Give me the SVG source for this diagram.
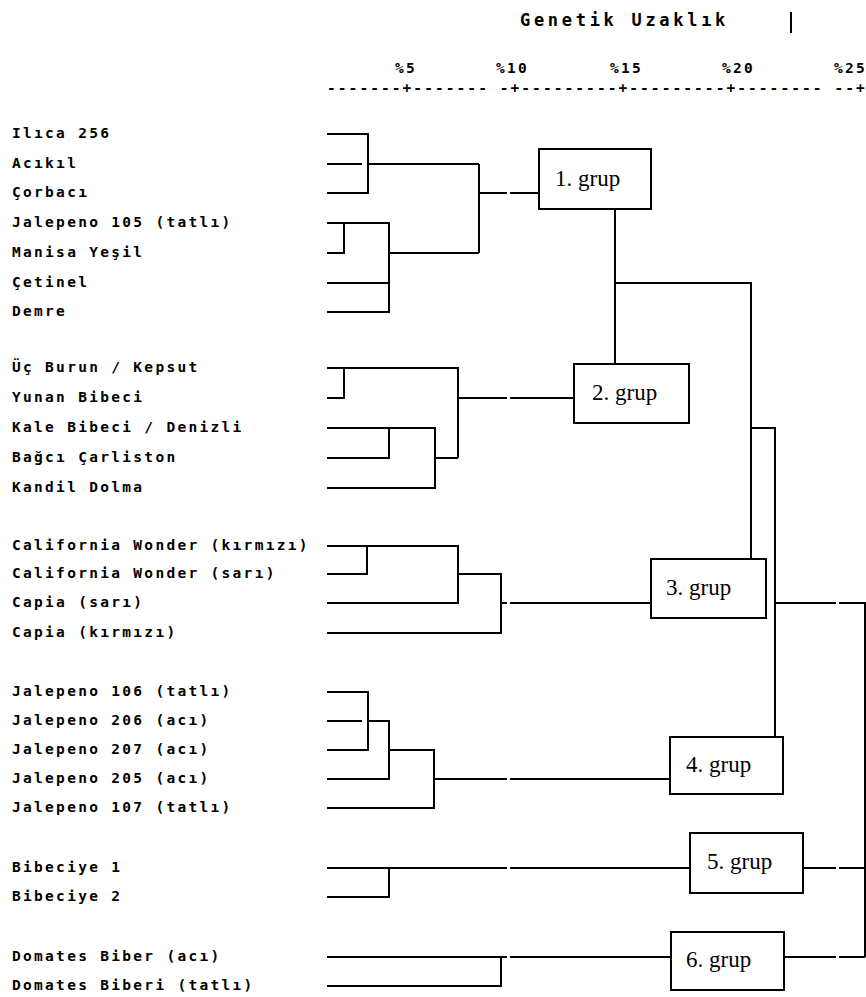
<svg xmlns="http://www.w3.org/2000/svg" width="866" height="997" viewBox="0 0 866 997">
<style>
.lbl{font-family:"DejaVu Sans Mono","Liberation Mono",monospace;font-weight:bold;font-size:14.5px;letter-spacing:2.3px;fill:#000}
.hdr{font-family:"DejaVu Sans Mono","Liberation Mono",monospace;font-weight:bold;font-size:17px;letter-spacing:3.7px;fill:#000}
.ax{font-family:"DejaVu Sans Mono","Liberation Mono",monospace;font-weight:bold;font-size:14.5px;letter-spacing:2.3px;fill:#000}
.grp{font-family:"Liberation Serif","Times New Roman",serif;font-size:23px;fill:#000}
.box{fill:#fff;stroke:#000;stroke-width:2}
.ln{fill:none;stroke:#000;stroke-width:2;stroke-linejoin:miter}
</style>
<rect width="866" height="997" fill="#fff"/>
<g id="header">
<text class="hdr" x="520" y="26">Genetik Uzaklık</text>
<line x1="791" y1="12" x2="791" y2="33" stroke="#000" stroke-width="2"/>
<text class="ax" x="395" y="73">%5</text>
<text class="ax" x="496" y="73">%10</text>
<text class="ax" x="610" y="73">%15</text>
<text class="ax" x="722" y="73">%20</text>
<text class="ax" x="834" y="73">%25</text>
<text class="ax" x="327" y="93" textLength="540" lengthAdjust="spacing">-------+------- -+---------+---------+-------- --+</text>
</g>
<g id="labels">
<text class="lbl" x="12" y="138">Ilıca 256</text>
<text class="lbl" x="12" y="168">Acıkıl</text>
<text class="lbl" x="12" y="197">Çorbacı</text>
<text class="lbl" x="12" y="227">Jalepeno 105 (tatlı)</text>
<text class="lbl" x="12" y="257">Manisa Yeşil</text>
<text class="lbl" x="12" y="287">Çetinel</text>
<text class="lbl" x="12" y="316">Demre</text>
<text class="lbl" x="12" y="372">Üç Burun / Kepsut</text>
<text class="lbl" x="12" y="402">Yunan Bibeci</text>
<text class="lbl" x="12" y="432">Kale Bibeci / Denizli</text>
<text class="lbl" x="12" y="462">Bağcı Çarliston</text>
<text class="lbl" x="12" y="492">Kandil Dolma</text>
<text class="lbl" x="12" y="550">California Wonder (kırmızı)</text>
<text class="lbl" x="12" y="578">California Wonder (sarı)</text>
<text class="lbl" x="12" y="607">Capia (sarı)</text>
<text class="lbl" x="12" y="637">Capia (kırmızı)</text>
<text class="lbl" x="12" y="696">Jalepeno 106 (tatlı)</text>
<text class="lbl" x="12" y="725">Jalepeno 206 (acı)</text>
<text class="lbl" x="12" y="754">Jalepeno 207 (acı)</text>
<text class="lbl" x="12" y="783">Jalepeno 205 (acı)</text>
<text class="lbl" x="12" y="812">Jalepeno 107 (tatlı)</text>
<text class="lbl" x="12" y="872">Bibeciye 1</text>
<text class="lbl" x="12" y="901">Bibeciye 2</text>
<text class="lbl" x="12" y="961">Domates Biber (acı)</text>
<text class="lbl" x="12" y="990">Domates Biberi (tatlı)</text>
</g>
<g id="connectors">
<path class="ln" d="M327,134 H368 V193 H327 M327,164 H362 M368,164 H479 M479,164 V253 M327,223 H389 V312 H327 M344,223 V253 H327 M389,253 H479 M327,283 H389 M479,193 H507 M510,193 H539"/>
<path class="ln" d="M327,368 H458 V458 M344,368 V398 H327 M327,428 H435 V488 H327 M389,428 V458 H327 M435,458 H458 M458,398 H507 M510,398 H574"/>
<path class="ln" d="M327,546 H458 V603 H327 M367,546 V574 H327 M458,574 H501 V633 H327 M501,603 H507 M510,603 H651"/>
<path class="ln" d="M327,692 H368 V750 H327 M327,721 H362 M368,721 H389 V779 H327 M389,750 H434 V808 H327 M434,779 H507 M510,779 H670"/>
<path class="ln" d="M327,868 H507 M510,868 H690 M389,868 V897 H327"/>
<path class="ln" d="M327,957 H507 M510,957 H671 M501,957 V986 H327"/>
<path class="ln" d="M615,209 V364 M615,283 H751 V559 M751,428 H775 V737 M775,603 H836 M839,603 H865 V957 M803,868 H836 M839,868 H865 M784,957 H836 M839,957 H865"/>
</g>
<g id="grup1"><rect class="box" x="539" y="149" width="112" height="60"/><text class="grp" x="555" y="186">1. grup</text></g>
<g id="grup2"><rect class="box" x="574" y="364" width="115" height="59"/><text class="grp" x="592" y="400">2. grup</text></g>
<g id="grup3"><rect class="box" x="651" y="559" width="115" height="59"/><text class="grp" x="666" y="595">3. grup</text></g>
<g id="grup4"><rect class="box" x="670" y="737" width="113" height="57"/><text class="grp" x="686" y="772">4. grup</text></g>
<g id="grup5"><rect class="box" x="690" y="833" width="113" height="60"/><text class="grp" x="707" y="869">5. grup</text></g>
<g id="grup6"><rect class="box" x="671" y="932" width="113" height="58"/><text class="grp" x="686" y="967">6. grup</text></g>
</svg>
